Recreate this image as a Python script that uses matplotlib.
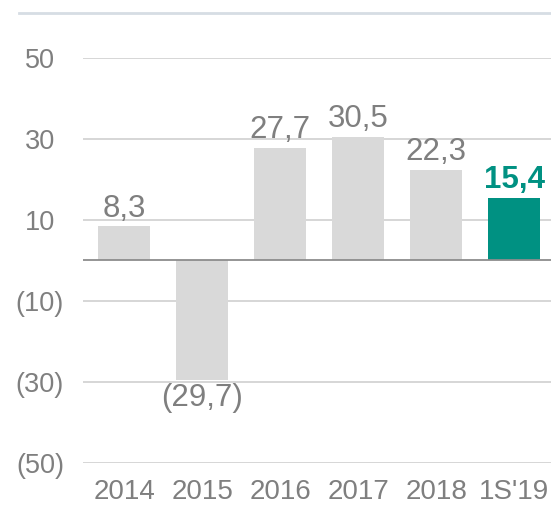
import matplotlib.pyplot as plt
from matplotlib.lines import Line2D

# data
years = ['2014', '2015', '2016', '2017', '2018', "1S'19"]
values = [8.3, -29.7, 27.7, 30.5, 22.3, 15.4]
labels = ['8,3', '(29,7)', '27,7', '30,5', '22,3', '15,4']
yticks = [50, 30, 10, -10, -30, -50]
ytick_labels = ['50', '30', '10', '(10)', '(30)', '(50)']

gray = '#D9D9D9'
teal = '#009182'
txt = '#7F7F7F'

plt.rcParams['font.family'] = ['Liberation Sans', 'DejaVu Sans']

fig = plt.figure(figsize=(5.51, 5.07), dpi=100)
ax = fig.add_axes([83 / 551, 1 - 462.7 / 507, 1 - 83 / 551, (462.7 - 57.5) / 507])

colors = [gray] * (len(years) - 1) + [teal]
x = list(range(len(years)))
ax.bar(x, values, width=0.67, color=colors, zorder=2)

for xi, v, lab, c in zip(x, values, labels, colors):
    if c == teal:
        ax.annotate(lab, (xi, v), xytext=(0, 2), textcoords='offset points',
                    ha='center', va='bottom', fontsize=22.5, color=teal, fontweight='bold')
    elif v >= 0:
        ax.annotate(lab, (xi, v), xytext=(0, 2), textcoords='offset points',
                    ha='center', va='bottom', fontsize=22.5, color=txt)
    else:
        ax.annotate(lab, (xi, v), xytext=(0, -2), textcoords='offset points',
                    ha='center', va='top', fontsize=22.5, color=txt)

ax.set_xlim(-0.53, 5.47)
ax.set_ylim(-50, 50)
ax.set_yticks(yticks)
ax.set_yticklabels(ytick_labels)
ax.set_xticks(x)
ax.set_xticklabels(years)
for t in ax.get_yticklabels():
    t.set_horizontalalignment('center')
ax.tick_params(axis='y', length=0, pad=31, labelsize=19.5, labelcolor=txt)
ax.tick_params(axis='x', length=0, pad=12, labelsize=20, labelcolor=txt)

for yv in yticks:
    ax.axhline(yv, color='#CFCFCF', lw=1.2, zorder=1)
ax.axhline(0, color='#8C8C8C', lw=1.3, zorder=3)

for s in ax.spines.values():
    s.set_visible(False)

# header rule at the top
fig.add_artist(Line2D([19 / 551, 1], [1 - 13 / 507, 1 - 13 / 507],
                      color='#D6DDE4', lw=2, transform=fig.transFigure))

fig.savefig('out.png', dpi=100)
